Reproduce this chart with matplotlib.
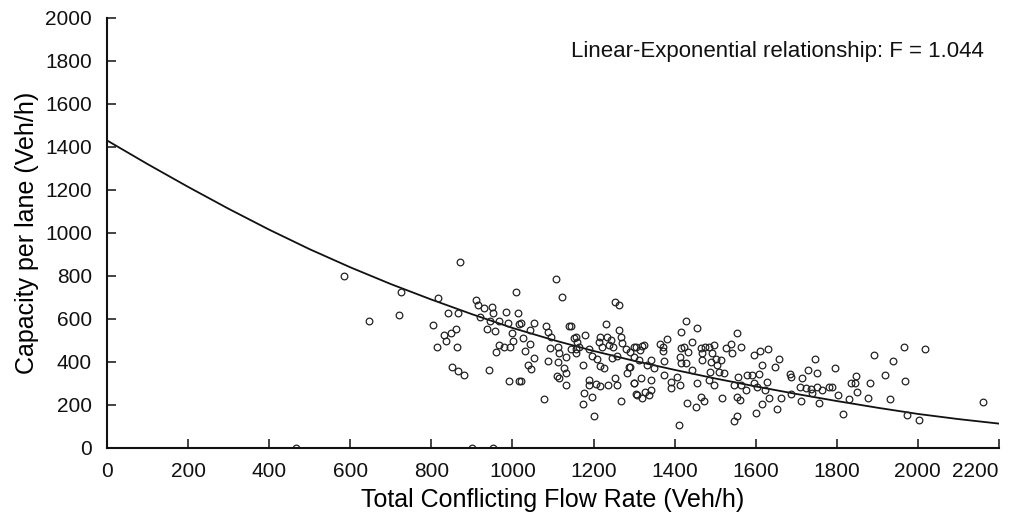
import matplotlib
matplotlib.use("Agg")
import matplotlib.pyplot as plt

plt.rcParams["font.family"] = ["Liberation Sans", "DejaVu Sans"]

# observed sites: total conflicting flow (veh/h) vs capacity per lane (veh/h)
flow = [
    585, 870, 645, 726, 719, 816, 805, 840, 865, 830, 835, 849, 862, 814, 863, 851,
    866, 881, 910, 914, 931, 950, 951, 921, 944, 937, 956, 984, 1009, 1013, 988, 966,
    999, 1002, 966, 978, 993, 959, 942, 992, 1015, 1015, 467, 900, 952,
    1020, 1025, 1044, 1054, 1043, 1030, 1053, 1039, 1047, 1020, 1107, 1122, 1084, 1088,
    1095, 1092, 1087, 1112, 1114, 1112, 1131, 1128, 1110, 1114, 1131, 1131, 1077, 1140,
    1145, 1151, 1157, 1159, 1145, 1156, 1164, 1178, 1156, 1175, 1188, 1196, 1209, 1215,
    1227, 1190, 1188, 1206, 1217, 1235, 1176, 1174, 1196, 1202, 1230, 1215, 1213, 1221,
    1234, 1238, 1242, 1248, 1246, 1258, 1254, 1262, 1262, 1267, 1271, 1279, 1291, 1287,
    1283, 1301, 1312, 1304, 1253, 1257, 1269, 1306,
    1300, 1301, 1291, 1324, 1319, 1314, 1332, 1342, 1349, 1317, 1300, 1308, 1320, 1326,
    1337, 1342, 1342, 1365, 1371, 1371, 1382, 1373, 1373, 1390, 1390, 1413, 1406, 1411,
    1427, 1415, 1416, 1423, 1413, 1415, 1427, 1433, 1443, 1456, 1443, 1456, 1431, 1452,
    1464, 1472, 1464, 1468, 1468, 1476, 1485, 1497, 1493, 1489, 1501, 1514, 1505, 1509,
    1487, 1485, 1497, 1521, 1517, 1526, 1538, 1555, 1563, 1542, 1556, 1546, 1563, 1575,
    1555, 1561, 1578, 1591, 1597, 1597, 1604, 1602, 1555, 1546,
    1611, 1630, 1616, 1657, 1648, 1608, 1629, 1622, 1633, 1616, 1653, 1663, 1685, 1688,
    1686, 1715, 1709, 1723, 1730, 1746, 1752, 1736, 1738, 1752, 1764, 1713, 1756, 1781,
    1789, 1795, 1803, 1816, 1830, 1834, 1844, 1847, 1849, 1877, 1882, 1892,
    1966, 2018, 1940, 1918, 1969, 1932, 1973, 2003, 2161,
]
capacity = [
    801, 865, 592, 724, 620, 696, 572, 626, 626, 524, 499, 536, 553, 471, 468, 375,
    357, 340, 688, 665, 653, 654, 629, 611, 588, 552, 546, 631, 724, 629, 580, 592,
    533, 499, 479, 468, 468, 445, 360, 312, 312, 577, 0, 0, 0,
    580, 510, 549, 583, 482, 450, 417, 386, 367, 312, 786, 704, 567, 541,
    515, 464, 406, 471, 443, 401, 422, 371, 336, 327, 350, 294, 228, 567,
    567, 510, 518, 494, 460, 459, 468, 526, 440, 386, 459, 428, 412, 381,
    373, 316, 294, 298, 290, 293, 257, 205, 239, 149, 577, 518, 494, 471,
    518, 479, 502, 468, 417, 428, 678, 665, 549, 515, 490, 459, 448, 378,
    347, 304, 409, 468, 324, 293, 220, 251,
    471, 425, 377, 479, 472, 456, 386, 409, 371, 327, 301, 246, 231, 262,
    246, 270, 316, 484, 471, 453, 505, 406, 340, 308, 277, 293, 332, 107,
    591, 541, 464, 471, 425, 394, 394, 448, 494, 557, 360, 301, 211, 189,
    239, 220, 464, 443, 409, 471, 468, 479, 440, 401, 412, 409, 386, 355,
    355, 316, 293, 347, 231, 464, 482, 533, 471, 440, 332, 293, 293, 270,
    239, 223, 340, 340, 304, 433, 285, 161, 149, 127,
    453, 462, 385, 412, 375, 343, 308, 267, 231, 205, 180, 234, 344, 332,
    251, 326, 282, 277, 360, 412, 347, 273, 254, 282, 267, 219, 208, 282,
    285, 371, 246, 157, 226, 304, 304, 336, 262, 231, 304, 433,
    471, 460, 406, 338, 312, 229, 152, 130, 213,
]

# fitted linear-exponential curve
fit_flow = [0, 100, 200, 300, 400, 500, 600, 700, 800, 900, 1000, 1100,
            1200, 1300, 1400, 1500, 1600, 1700, 1800, 1900, 2000, 2100, 2200]
fit_capacity = [1430, 1320, 1214, 1112, 1015, 924, 840, 762, 690, 622, 558, 502,
                451, 405, 363, 323, 286, 251, 218, 187, 158, 134, 113]

x_ticks = list(range(0, 2201, 200))
y_ticks = list(range(0, 2001, 200))
note = "Linear-Exponential relationship: F = 1.044"

fig = plt.figure(figsize=(10.10, 5.19), dpi=100)
ax = fig.add_axes([0.106, 0.137, 0.883, 0.8285])

ax.plot(fit_flow, fit_capacity, color="#111111", linewidth=1.3, zorder=2)
ax.plot(flow, capacity, linestyle="none", marker="o", markersize=4.8,
        markerfacecolor="none", markeredgecolor="#222222", markeredgewidth=0.9,
        zorder=3)

ax.set_xlim(0, 2200)
ax.set_ylim(0, 2000)
ax.set_xticks(x_ticks)
ax.set_yticks(y_ticks)
ax.set_xticklabels([str(v) for v in x_ticks])
ax.set_yticklabels([str(v) for v in y_ticks])
ax.get_xticklabels()[-1].set_horizontalalignment("right")

ax.tick_params(direction="in", length=6.5, width=1.1, labelsize=15,
               colors="#111111")
ax.tick_params(axis="x", pad=10)
ax.tick_params(axis="y", pad=11)
for side in ("top", "right"):
    ax.spines[side].set_visible(False)
for side in ("left", "bottom"):
    ax.spines[side].set_linewidth(1.5)
    ax.spines[side].set_color("#111111")
    ax.spines[side].set_zorder(4)

ax.set_xlabel("Total Conflicting Flow Rate (Veh/h)", fontsize=18, labelpad=5)
ax.set_ylabel("Capacity per lane (Veh/h)", fontsize=18, labelpad=4)

ax.text(2163, 1842, note, ha="right", va="center", fontsize=16, color="#111111")

fig.savefig("out.png", dpi=100)
